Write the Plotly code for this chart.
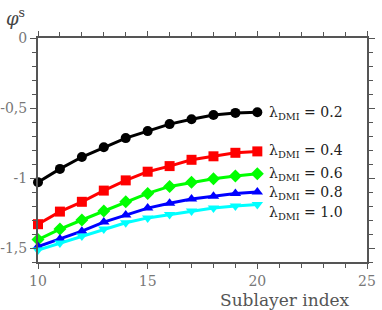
import plotly.graph_objects as go

x = list(range(10, 21))
lam_labels = ["0.2", "0.4", "0.6", "0.8", "1.0"]
phi_02 = [-1.03, -0.935, -0.85, -0.78, -0.715, -0.665, -0.615, -0.58, -0.55, -0.535, -0.53]
phi_04 = [-1.33, -1.24, -1.17, -1.09, -1.017, -0.955, -0.915, -0.87, -0.845, -0.82, -0.81]
phi_06 = [-1.44, -1.365, -1.30, -1.235, -1.17, -1.11, -1.06, -1.03, -1.005, -0.985, -0.97]
phi_08 = [-1.49, -1.435, -1.38, -1.315, -1.265, -1.215, -1.18, -1.15, -1.13, -1.11, -1.10]
phi_10 = [-1.515, -1.465, -1.415, -1.365, -1.32, -1.285, -1.26, -1.235, -1.215, -1.20, -1.19]
ytick_vals = [0, -0.5, -1, -1.5]
ytick_text = ["0", "-0,5", "-1", "-1,5"]
xtick_vals = [10, 15, 20, 25]

series = [phi_02, phi_04, phi_06, phi_08, phi_10]
colors = ["black", "#ff0000", "#00ff00", "#0000ff", "#00ffff"]
symbols = ["circle", "square", "diamond", "triangle-up", "triangle-down"]
label_y = [-0.535, -0.81, -0.97, -1.105, -1.25]

fig = go.Figure()
for ys, c, s in zip(series, colors, symbols):
    fig.add_trace(go.Scatter(x=x, y=ys, mode="lines+markers",
                             line=dict(color=c, width=3),
                             marker=dict(symbol=s, size=10, color=c),
                             showlegend=False, cliponaxis=False))

for lab, ly in zip(lam_labels, label_y):
    fig.add_annotation(x=20.45, y=ly, xref="x", yref="y", xanchor="left", yanchor="middle",
                       text="λ<sub>DMI</sub> = " + lab, showarrow=False,
                       font=dict(family="DejaVu Serif", size=14, color="#222"))

W, H = 382, 310
L, T, R, B = 38, 38, 15, 48
pw, ph = W - L - R, H - T - B

def px(sx):
    return (sx - L) / pw

def py(sy):
    return 1 - (sy - T) / ph

fig.add_annotation(x=px(4), y=py(3), xref="paper", yref="paper",
                   xanchor="left", yanchor="top",
                   text="<i>φ</i><sup>s</sup>", showarrow=False,
                   font=dict(family="DejaVu Serif", size=18, color="#444"))
fig.add_annotation(x=px(285), y=py(300), xref="paper", yref="paper",
                   xanchor="center", yanchor="middle", showarrow=False,
                   text="Sublayer index",
                   font=dict(family="DejaVu Serif", size=17, color="#555"))

axis_col = "#555555"
fig.update_xaxes(range=[10, 25], tickvals=xtick_vals, ticks="outside", ticklen=5,
                 tickwidth=1.2, tickcolor=axis_col, showline=True, linecolor=axis_col,
                 linewidth=2, mirror="ticks", showgrid=False, zeroline=False, automargin=False,
                 minor=dict(dtick=1, ticks="outside", ticklen=4, tickcolor=axis_col, showgrid=False),
                 tickfont=dict(family="DejaVu Serif", size=14, color="#777"))
fig.update_yaxes(range=[-1.6, 0], tickvals=ytick_vals, ticktext=ytick_text, ticks="outside",
                 ticklen=6, tickwidth=1.2, tickcolor=axis_col, showline=True, linecolor=axis_col,
                 linewidth=2, mirror="ticks", showgrid=False, zeroline=False, automargin=False,
                 minor=dict(dtick=0.1, tick0=0, ticks="outside", ticklen=4, tickcolor=axis_col, showgrid=False),
                 tickfont=dict(family="DejaVu Serif", size=14, color="#777"))

fig.update_layout(width=W, height=H, margin=dict(l=L, r=R, t=T, b=B),
                  plot_bgcolor="white", paper_bgcolor="white")

fig.write_html("out.html", config={"displayModeBar": False},
               post_script="document.body.style.margin='0';")
